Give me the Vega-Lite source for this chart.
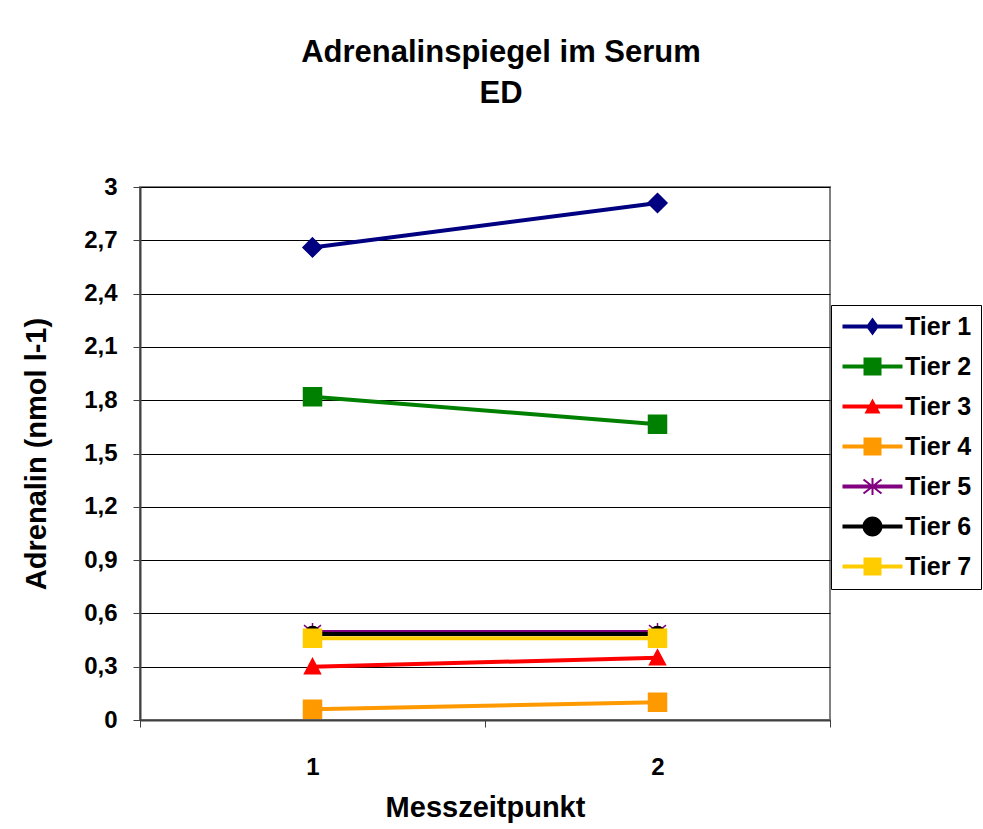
{
  "$schema": "https://vega.github.io/schema/vega-lite/v6.json",
  "autosize": {"type": "none"},
  "width": 690,
  "height": 533,
  "padding": {"left": 140, "top": 187, "right": 153, "bottom": 109},
  "background": "white",
  "title": {
    "text": ["Adrenalinspiegel im Serum", "ED"],
    "font": "Liberation Sans",
    "fontSize": 31,
    "fontWeight": "bold",
    "color": "black",
    "lineHeight": 41,
    "anchor": "middle",
    "dx": 16,
    "offset": 65
  },
  "config": {
    "view": {"stroke": "#808080", "strokeWidth": 2},
    "font": "Liberation Sans"
  },
  "data": {
    "values": [
      {"Messzeitpunkt": "1", "Tier": "Tier 1", "Adrenalin": 2.66},
      {"Messzeitpunkt": "2", "Tier": "Tier 1", "Adrenalin": 2.91},
      {"Messzeitpunkt": "1", "Tier": "Tier 2", "Adrenalin": 1.82},
      {"Messzeitpunkt": "2", "Tier": "Tier 2", "Adrenalin": 1.665},
      {"Messzeitpunkt": "1", "Tier": "Tier 3", "Adrenalin": 0.3},
      {"Messzeitpunkt": "2", "Tier": "Tier 3", "Adrenalin": 0.35},
      {"Messzeitpunkt": "1", "Tier": "Tier 4", "Adrenalin": 0.06},
      {"Messzeitpunkt": "2", "Tier": "Tier 4", "Adrenalin": 0.1},
      {"Messzeitpunkt": "1", "Tier": "Tier 5", "Adrenalin": 0.495},
      {"Messzeitpunkt": "2", "Tier": "Tier 5", "Adrenalin": 0.495},
      {"Messzeitpunkt": "1", "Tier": "Tier 6", "Adrenalin": 0.484},
      {"Messzeitpunkt": "2", "Tier": "Tier 6", "Adrenalin": 0.484},
      {"Messzeitpunkt": "1", "Tier": "Tier 7", "Adrenalin": 0.46},
      {"Messzeitpunkt": "2", "Tier": "Tier 7", "Adrenalin": 0.46}
    ]
  },
  "encoding": {
    "x": {
      "field": "Messzeitpunkt",
      "type": "ordinal",
      "scale": {"type": "band", "paddingInner": 0, "paddingOuter": 0},
      "axis": {
        "title": "Messzeitpunkt",
        "titleFont": "Liberation Sans",
        "titleFontSize": 29,
        "titleFontWeight": "bold",
        "titleColor": "black",
        "titlePadding": 14,
        "labelFont": "Liberation Sans",
        "labelFontSize": 24,
        "labelFontWeight": "bold",
        "labelColor": "black",
        "labelAngle": 0,
        "labelPadding": 28,
        "tickBand": "extent",
        "tickSize": 7,
        "tickColor": "#404040",
        "domainColor": "#404040",
        "domainWidth": 2,
        "grid": false
      }
    },
    "y": {
      "field": "Adrenalin",
      "type": "quantitative",
      "scale": {"domain": [0, 3], "nice": false, "zero": true},
      "axis": {
        "title": "Adrenalin (nmol l-1)",
        "titleFont": "Liberation Sans",
        "titleFontSize": 29,
        "titleFontWeight": "bold",
        "titleColor": "black",
        "titlePadding": 32,
        "labelFont": "Liberation Sans",
        "labelFontSize": 24,
        "labelFontWeight": "bold",
        "labelColor": "black",
        "labelPadding": 16,
        "values": [0, 0.3, 0.6, 0.9, 1.2, 1.5, 1.8, 2.1, 2.4, 2.7, 3],
        "labelExpr": "replace(format(datum.value, '.1~f'), '.', ',')",
        "tickSize": 7,
        "tickColor": "#404040",
        "domainColor": "#404040",
        "domainWidth": 2,
        "grid": true,
        "gridColor": "black",
        "gridWidth": 1
      }
    }
  },
  "layer": [
    {
      "mark": {"type": "line", "strokeWidth": 4},
      "encoding": {
        "color": {
          "field": "Tier",
          "type": "nominal",
          "scale": {
            "domain": ["Tier 1", "Tier 2", "Tier 3", "Tier 4", "Tier 5", "Tier 6", "Tier 7"],
            "range": ["#000080", "#008000", "#FF0000", "#FF9900", "#800080", "#000000", "#FFCC00"]
          },
          "legend": null
        }
      }
    },
    {
      "mark": {"type": "point", "filled": true, "size": 400, "opacity": 1, "strokeWidth": 1.5},
      "encoding": {
        "color": {
          "field": "Tier",
          "type": "nominal",
          "scale": {
            "domain": ["Tier 1", "Tier 2", "Tier 3", "Tier 4", "Tier 5", "Tier 6", "Tier 7"],
            "range": ["#000080", "#008000", "#FF0000", "#FF9900", "#800080", "#000000", "#FFCC00"]
          },
          "legend": null
        },
        "stroke": {
          "field": "Tier",
          "type": "nominal",
          "scale": {
            "domain": ["Tier 1", "Tier 2", "Tier 3", "Tier 4", "Tier 5", "Tier 6", "Tier 7"],
            "range": ["#000080", "#008000", "#FF0000", "#FF9900", "#800080", "#000000", "#FFCC00"]
          },
          "legend": null
        },
        "shape": {
          "field": "Tier",
          "type": "nominal",
          "scale": {
            "domain": ["Tier 1", "Tier 2", "Tier 3", "Tier 4", "Tier 5", "Tier 6", "Tier 7"],
            "range": [
              "M0,-0.95L0.95,0L0,0.95L-0.95,0Z",
              "M-0.9,-0.9H0.9V0.9H-0.9Z",
              "M0,-0.8L0.8,0.7H-0.8Z",
              "M-0.9,-0.9H0.9V0.9H-0.9Z",
              "M-0.85,-0.7L0.85,0.7M-0.85,0.7L0.85,-0.7M0,-0.9L0,0.9",
              "M-0.75,0A0.75,0.75 0 1,1 0.75,0A0.75,0.75 0 1,1 -0.75,0Z",
              "M-0.9,-0.9H0.9V0.9H-0.9Z"
            ]
          },
          "legend": null
        }
      }
    },
    {
      "mark": {"type": "point", "filled": true, "size": 400, "opacity": 0},
      "encoding": {
        "color": {
          "field": "Tier",
          "type": "nominal",
          "scale": {
            "domain": ["Tier 1", "Tier 2", "Tier 3", "Tier 4", "Tier 5", "Tier 6", "Tier 7"],
            "range": ["#000080", "#008000", "#FF0000", "#FF9900", "#800080", "#000000", "#FFCC00"]
          },
          "legend": {
            "title": null,
            "orient": "none",
            "legendX": 691,
            "legendY": 118,
            "direction": "vertical",
            "fillColor": "white",
            "strokeColor": "black",
            "padding": 9,
            "rowPadding": 14,
            "symbolSize": 400,
            "symbolOpacity": 1,
            "symbolStrokeWidth": 0,
            "labelOffset": 40,
            "labelFont": "Liberation Sans",
            "labelFontSize": 25,
            "labelFontWeight": "bold",
            "labelColor": "black",
            "labelLimit": 200
          }
        },
        "shape": {
          "field": "Tier",
          "type": "nominal",
          "scale": {
            "domain": ["Tier 1", "Tier 2", "Tier 3", "Tier 4", "Tier 5", "Tier 6", "Tier 7"],
            "range": [
              "M-1,-0.2H5V0.2H-1Z M2,-0.9L2.65,0L2,0.9L1.35,0Z",
              "M-1,-0.2H5V0.2H-1Z M1.1,-0.9H2.9V0.9H1.1Z",
              "M-1,-0.2H5V0.2H-1Z M2,-0.8L2.8,0.7H1.2Z",
              "M-1,-0.2H5V0.2H-1Z M1.1,-0.9H2.9V0.9H1.1Z",
              "M-1,-0.2H5V0.2H-1Z M1.9,-0.85H2.1V0.85H1.9Z M1.161,-0.779L2.961,0.621L2.839,0.779L1.039,-0.621Z M1.039,0.621L2.839,-0.779L2.961,-0.621L1.161,0.779Z",
              "M-1,-0.2H5V0.2H-1Z M1,0A1,1 0 1,1 3,0A1,1 0 1,1 1,0Z",
              "M-1,-0.2H5V0.2H-1Z M1.1,-0.9H2.9V0.9H1.1Z"
            ]
          },
          "legend": {
            "title": null,
            "orient": "none",
            "legendX": 691,
            "legendY": 118,
            "direction": "vertical",
            "fillColor": "white",
            "strokeColor": "black",
            "padding": 9,
            "rowPadding": 14,
            "symbolSize": 400,
            "symbolOpacity": 1,
            "symbolStrokeWidth": 0,
            "labelOffset": 40,
            "labelFont": "Liberation Sans",
            "labelFontSize": 25,
            "labelFontWeight": "bold",
            "labelColor": "black",
            "labelLimit": 200
          }
        }
      }
    }
  ],
  "resolve": {"scale": {"color": "independent", "shape": "independent", "stroke": "independent"}}
}
